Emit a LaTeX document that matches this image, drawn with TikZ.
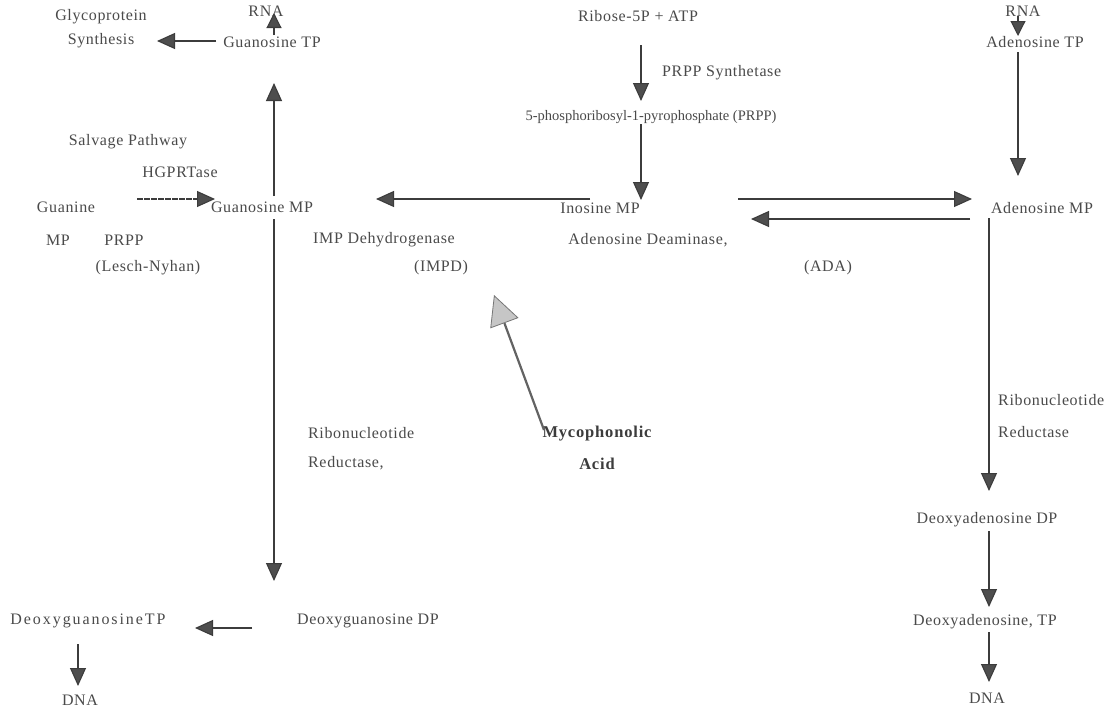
\documentclass[tikz,border=0pt]{standalone}
\usepackage{fontspec}
\setmainfont{Liberation Serif}
\usetikzlibrary{arrows.meta}
\definecolor{txt}{HTML}{4A4A4A}
\definecolor{ln}{HTML}{3C3C3C}
\definecolor{headfill}{HTML}{4E4E4E}
\begin{document}
\begin{tikzpicture}[x=1pt,y=-1pt,
  lbl/.style={text=txt,font=\fontsize{16}{18}\selectfont\addfontfeatures{LetterSpace=4},inner sep=1pt},
  wide/.style={font=\fontsize{16}{18}\selectfont\addfontfeatures{LetterSpace=12}},
  small/.style={font=\fontsize{14.5}{16}\selectfont},
  bold/.style={text=ln,font=\fontsize{16.5}{18}\selectfont\bfseries\addfontfeatures{LetterSpace=5},inner sep=1pt},
  arr/.style={draw=ln,line width=1.1pt,-{Triangle[length=18pt,width=16pt,fill=headfill]}},
  sarr/.style={draw=ln,line width=1.1pt,-{Triangle[length=15pt,width=15pt,fill=headfill]}},
  bigarr/.style={draw=ln!80,line width=2.2pt,-{Triangle[length=30pt,width=30pt,fill=gray!45,color=ln!70,line width=0.8pt]}}]
\useasboundingbox[fill=white] (0,0) rectangle (1106,715);

% ---- labels ----
\node[lbl] (rnaL) at (266,11) {RNA};
\node[lbl] (glyco1) at (101,17) {Glycoprotein};
\node[lbl] (glyco2) at (101,41) {Synthesis};
\node[lbl] (gtp) at (272,42) {Guanosine TP};
\node[lbl] (salv) at (128,142) {Salvage Pathway};
\node[lbl] (hgprt) at (180,172) {HGPRTase};
\node[lbl] (guan) at (66,207) {Guanine};
\node[lbl] (gmp) at (262,207) {Guanosine MP};
\node[lbl] (mp) at (58,240) {MP};
\node[lbl] (prppL) at (124,240) {PRPP};
\node[lbl] (lesch) at (148,268) {(Lesch-Nyhan)};
\node[lbl] (impdh) at (384,240) {IMP Dehydrogenase};
\node[lbl] (impd) at (441,268) {(IMPD)};
\node[lbl] (ribose) at (638,16) {Ribose-5P + ATP};
\node[lbl,anchor=west] (prpps) at (661,73) {PRPP Synthetase};
\node[lbl,small] (prpp) at (651,117) {5-phosphoribosyl-1-pyrophosphate (PRPP)};
\node[lbl] (imp) at (600,208) {Inosine MP};
\node[lbl] (ada1) at (648,240) {Adenosine Deaminase,};
\node[lbl] (ada2) at (828,268) {(ADA)};
\node[lbl] (rnaR) at (1023,11) {RNA};
\node[lbl] (atp) at (1035,42) {Adenosine TP};
\node[lbl] (amp) at (1042,208) {Adenosine MP};
\node[lbl,anchor=west] (rr1) at (997,400) {Ribonucleotide};
\node[lbl,anchor=west] (rr2) at (997,432) {Reductase};
\node[lbl] (dadp) at (987,520) {Deoxyadenosine DP};
\node[lbl] (datp) at (985,622) {Deoxyadenosine, TP};
\node[lbl] (dnaR) at (987,698) {DNA};
\node[bold] (myco1) at (597,434) {Mycophonolic};
\node[bold] (myco2) at (597,464) {Acid};
\node[lbl,anchor=west] (rg1) at (307,433) {Ribonucleotide};
\node[lbl,anchor=west] (rg2) at (307,463) {Reductase,};
\node[lbl] (dgdp) at (368,621) {Deoxyguanosine DP};
\node[lbl,wide] (dgtp) at (88,621) {DeoxyguanosineTP};
\node[lbl] (dnaL) at (80,700) {DNA};

% ---- connector end points ----
\coordinate (a1s) at (274,35);   \coordinate (a1e) at (274,13);
\coordinate (a2s) at (216,41);   \coordinate (a2e) at (157,41);
\coordinate (a3s) at (274,196);  \coordinate (a3e) at (274,83);
\coordinate (a4s) at (274,219);  \coordinate (a4e) at (274,581);
\coordinate (a5s) at (137,199);  \coordinate (a5e) at (215,199);
\coordinate (a6s) at (590,199);  \coordinate (a6e) at (376,199);
\coordinate (a7s) at (641,45);   \coordinate (a7e) at (641,101);
\coordinate (a8s) at (641,124);  \coordinate (a8e) at (641,200);
\coordinate (a9s) at (738,199);  \coordinate (a9e) at (972,199);
\coordinate (a10s) at (970,219); \coordinate (a10e) at (751,219);
\coordinate (a11s) at (1018,16); \coordinate (a11e) at (1018,36);
\coordinate (a12s) at (1018,52); \coordinate (a12e) at (1018,176);
\coordinate (a13s) at (989,218); \coordinate (a13e) at (989,491);
\coordinate (a14s) at (989,531); \coordinate (a14e) at (989,607);
\coordinate (a15s) at (989,632); \coordinate (a15e) at (989,682);
\coordinate (a16s) at (252,628); \coordinate (a16e) at (195,628);
\coordinate (a17s) at (78,644);  \coordinate (a17e) at (78,686);
\coordinate (a18s) at (544,430); \coordinate (a18e) at (494,295);

% ---- connectors ----
\draw[sarr] (a1s) -- (a1e);
\draw[arr] (a2s) -- (a2e);
\draw[arr] (a3s) -- (a3e);
\draw[arr] (a4s) -- (a4e);
\draw[arr,dash pattern=on 6pt off 1pt] (a5s) -- (a5e);
\draw[arr] (a6s) -- (a6e);
\draw[arr] (a7s) -- (a7e);
\draw[arr] (a8s) -- (a8e);
\draw[arr] (a9s) -- (a9e);
\draw[arr] (a10s) -- (a10e);
\draw[sarr] (a11s) -- (a11e);
\draw[arr] (a12s) -- (a12e);
\draw[arr] (a13s) -- (a13e);
\draw[arr] (a14s) -- (a14e);
\draw[arr] (a15s) -- (a15e);
\draw[arr] (a16s) -- (a16e);
\draw[arr] (a17s) -- (a17e);
\draw[bigarr] (a18s) -- (a18e);
\end{tikzpicture}
\end{document}
